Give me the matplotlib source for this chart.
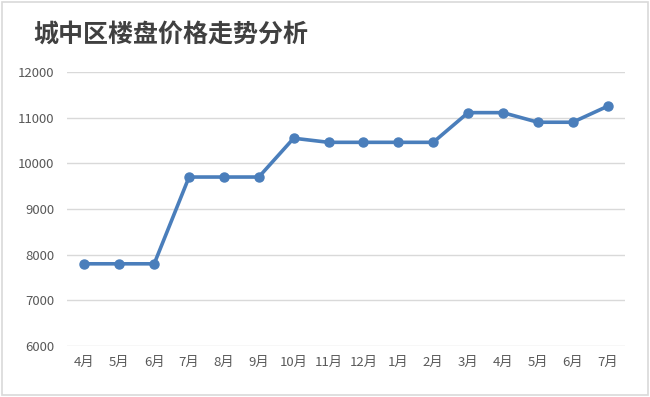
# -*- coding: utf-8 -*-
import matplotlib
matplotlib.use("Agg")
import matplotlib.pyplot as plt
from matplotlib.patches import Rectangle

plt.rcParams['font.family'] = ['Noto Sans CJK SC', 'DejaVu Sans']

months = ["4月", "5月", "6月", "7月", "8月", "9月", "10月", "11月", "12月",
          "1月", "2月", "3月", "4月", "5月", "6月", "7月"]
prices = [7800, 7800, 7800, 9700, 9700, 9700, 10550, 10460, 10460,
          10460, 10460, 11110, 11110, 10900, 10900, 11250]
yticks = [6000, 7000, 8000, 9000, 10000, 11000, 12000]

fig = plt.figure(figsize=(6.5, 3.97), dpi=100)
fig.patches.append(Rectangle((0.003, 0.004), 0.994, 0.992, transform=fig.transFigure,
                             fill=False, edgecolor="#d9d9d9", linewidth=1.2))
ax = fig.add_axes([67 / 650, 1 - 346 / 397, 558 / 650, 274 / 397])

x = range(len(months))
ax.plot(x, prices, color="#4a7ebb", linewidth=2.6, marker="o",
        markersize=6.5, zorder=3)

ax.set_xlim(-0.5, len(months) - 0.5)
ax.set_ylim(6000, 12000)
ax.set_yticks(yticks)
ax.set_xticks(list(x))
ax.set_xticklabels(months)
ax.grid(axis="y", color="#d9d9d9", linewidth=1)
ax.set_axisbelow(True)
for s in ax.spines.values():
    s.set_visible(False)
ax.tick_params(axis="both", length=0, labelsize=9.5, labelcolor="#595959")
ax.tick_params(axis="y", pad=9)
ax.tick_params(axis="x", pad=7)

fig.text(33 / 650, 1 - 35 / 397, "城中区楼盘价格走势分析", fontsize=18,
         color="#404040", va="center", ha="left", fontweight="bold")

fig.savefig("out.png", dpi=100)
